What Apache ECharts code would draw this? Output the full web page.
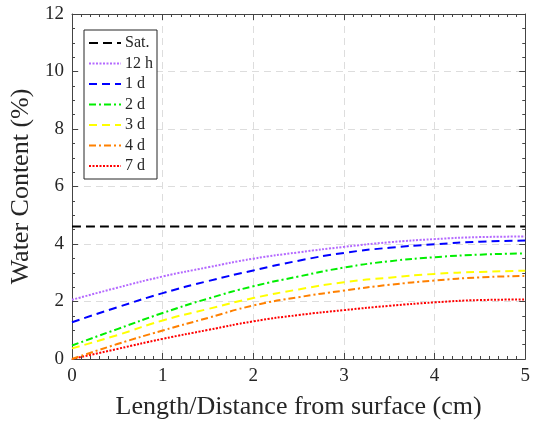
<!DOCTYPE html>
<html>
<head>
<meta charset="utf-8">
<script src="https://cdn.jsdelivr.net/npm/echarts@6/dist/echarts.min.js"></script>
<style>
html,body{margin:0;padding:0;background:#fff;}
#chart{width:533px;height:425px;}
</style>
</head>
<body>
<div id="chart"></div>
<script>
// Distance from surface (cm)
const xs = [0, 0.5, 1, 1.5, 2, 2.5, 3, 3.5, 4, 4.5, 5];
// Water content (%)
const sat = [4.61, 4.61, 4.61, 4.61, 4.61, 4.61, 4.61, 4.61, 4.61, 4.61, 4.61];
const h12 = [2.06, 2.48, 2.87, 3.19, 3.49, 3.71, 3.90, 4.06, 4.17, 4.24, 4.26];
const d1  = [1.28, 1.80, 2.29, 2.71, 3.08, 3.42, 3.69, 3.87, 3.99, 4.08, 4.12];
const d2  = [0.47, 1.04, 1.60, 2.10, 2.53, 2.87, 3.18, 3.40, 3.54, 3.63, 3.67];
const d3  = [0.37, 0.83, 1.34, 1.74, 2.12, 2.42, 2.67, 2.83, 2.96, 3.03, 3.07];
const d4  = [0.00, 0.52, 0.99, 1.43, 1.86, 2.15, 2.38, 2.58, 2.73, 2.84, 2.89];
const d7  = [0.00, 0.35, 0.70, 1.01, 1.31, 1.53, 1.70, 1.85, 1.97, 2.05, 2.07];
const seriesNames = ['Sat.', '12 h', '1 d', '2 d', '3 d', '4 d', '7 d'];
const xTicks = [0, 1, 2, 3, 4, 5];
const yTicks = [0, 2, 4, 6, 8, 10, 12];

const FONT = 'Liberation Serif';
const AX = '#444';

function pairs(ys) { return xs.map((x, i) => [x, ys[i]]); }

const styles = [
  { color: '#000000', type: [9, 5] },
  { color: '#b469ff', type: [2, 1.5] },
  { color: '#0000ff', type: [8, 5] },
  { color: '#00ee00', type: [7, 3, 2, 3] },
  { color: '#ffff00', type: [8, 5] },
  { color: '#ff8000', type: [7, 3, 2, 3] },
  { color: '#ff0000', type: [2, 1.5] }
];
const datasets = [sat, h12, d1, d2, d3, d4, d7];

const series = datasets.map((d, i) => ({
  name: seriesNames[i],
  type: 'line',
  xAxisIndex: 0,
  yAxisIndex: 0,
  data: pairs(d),
  smooth: 0.5,
  symbol: 'none',
  showSymbol: false,
  z: 10 - i,
  lineStyle: { color: styles[i].color, width: 2, type: styles[i].type },
  itemStyle: { color: styles[i].color },
  emphasis: { disabled: true },
  animation: false
}));

function mkX(pos, main) {
  return {
    type: 'value', position: pos, min: 0, max: 5, interval: 1,
    name: main ? 'Length/Distance from surface (cm)' : '',
    nameLocation: 'middle', nameGap: 35,
    nameTextStyle: { fontFamily: FONT, fontSize: 26, color: '#262626' },
    axisLine: { show: true, onZero: false, lineStyle: { color: AX, width: 1 } },
    axisTick: { show: true, inside: true, length: 6, lineStyle: { color: AX } },
    minorTick: { show: true, splitNumber: 10, length: 3, lineStyle: { color: AX } },
    axisLabel: { show: main, fontFamily: FONT, fontSize: 19, color: '#262626', margin: 8,
      formatter: v => xTicks.includes(v) ? String(v) : '' },
    splitLine: { show: main, lineStyle: { color: '#dddddd', type: [7, 5], width: 1 } },
    minorSplitLine: { show: false }
  };
}
function mkY(pos, main) {
  return {
    type: 'value', position: pos, min: 0, max: 12, interval: 2,
    name: main ? 'Water Content (%)' : '',
    nameLocation: 'middle', nameGap: 38,
    nameTextStyle: { fontFamily: FONT, fontSize: 26, color: '#262626' },
    axisLine: { show: true, onZero: false, lineStyle: { color: AX, width: 1 } },
    axisTick: { show: true, inside: true, length: 6, lineStyle: { color: AX } },
    minorTick: { show: true, splitNumber: 4, length: 3, lineStyle: { color: AX } },
    axisLabel: { show: main, fontFamily: FONT, fontSize: 19, color: '#262626', margin: 8,
      formatter: v => yTicks.includes(v) ? String(v) : '' },
    splitLine: { show: main, lineStyle: { color: '#dddddd', type: [7, 5], width: 1 } },
    minorSplitLine: { show: false }
  };
}

const chart = echarts.init(document.getElementById('chart'), null, { renderer: 'canvas' });
chart.setOption({
  animation: false,
  backgroundColor: '#ffffff',
  grid: { left: 70, right: 6, top: 14, bottom: 61, containLabel: false },
  xAxis: [mkX('bottom', true), mkX('top', false)],
  yAxis: [mkY('left', true), mkY('right', false)],
  legend: {
    show: true,
    orient: 'vertical',
    left: 84, top: 30,
    data: seriesNames,
    itemWidth: 32, itemHeight: 12, itemGap: 4.5,
    padding: [5, 4, 5, 4],
    backgroundColor: '#ffffff',
    borderColor: '#262626', borderWidth: 1,
    selectedMode: false,
    itemStyle: { opacity: 0, borderWidth: 0 },
    textStyle: { fontFamily: FONT, fontSize: 16, color: '#262626', padding: [0, 0, 0, -1] }
  },
  series: series
});
</script>
</body>
</html>
